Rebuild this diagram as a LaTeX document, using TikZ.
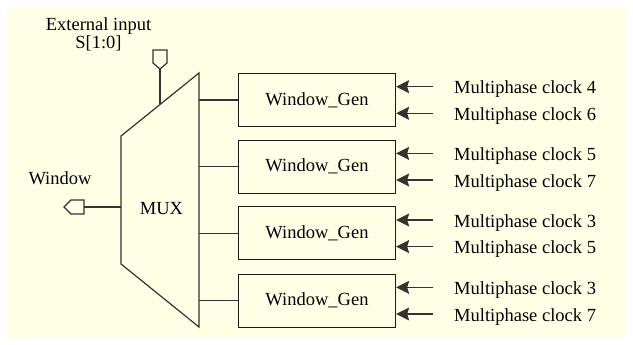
\documentclass[tikz,border=0pt]{standalone}
\usepackage{fontspec}
\setmainfont{Liberation Serif}
\usetikzlibrary{arrows.meta,calc}
\definecolor{bgyellow}{RGB}{255,255,230}
\begin{document}
\begin{tikzpicture}[x=1pt,y=-1pt,
  wire/.style={line width=1.2pt, draw=black!80},
  genbox/.style={draw=black!90, line width=1.3pt, minimum width=157pt, minimum height=53pt, inner sep=0pt, font=\fontsize{18.5}{22}\selectfont},
  lbl/.style={font=\fontsize{18.5}{22}\selectfont, inner sep=0pt},
  clk/.style={wire, -{Stealth[length=13pt,width=13pt,inset=2pt]}},
  port/.style={wire, fill=bgyellow, line join=miter}
]
\useasboundingbox (0,0) rectangle (633,345);
\fill[white] (0,0) rectangle (633,345);
\fill[bgyellow] (7,7) rectangle (626,338);

% MUX trapezoid
\coordinate (mTR) at (199,73);
\coordinate (mBR) at (199,327);
\coordinate (mBL) at (121,264);
\coordinate (mTL) at (121,136);
\draw[wire, line join=miter] (mTL) -- (mTR) -- (mBR) -- (mBL) -- cycle;
\node[lbl, anchor=base] (mux) at (161.5,214.5) {MUX};

% select input
\node[lbl, anchor=base, align=center, font=\fontsize{18.5}{15.5}\selectfont] (ext) at (98.5,48.5) {External input\\S[1:0]};
\coordinate (selport) at (160,69);
\draw[port] (153,50) -- (167,50) -- (167,63) -- (selport) -- (153,63) -- cycle;
\coordinate (mTop) at ($(mTR)!0.5!(mTL)$);
\draw[wire] (selport) -- (mTop);

% window output
\node[lbl, anchor=base] (win) at (60,185) {Window};
\coordinate (wout) at (84,207);
\draw[port] (64,207) -- (71,200) -- (84,200) -- (84,214) -- (71,214) -- cycle;
\draw[wire] (wout) -- (wout -| mTL);

% Window_Gen boxes
\node[genbox] (g1) at (317,100) {Window\_Gen};
\node[genbox] (g2) at (317,166.7) {Window\_Gen};
\node[genbox] (g3) at (317,233.3) {Window\_Gen};
\node[genbox] (g4) at (317,300.7) {Window\_Gen};

\foreach \g in {g1,g2,g3,g4}{
  \draw[wire] (\g.west -| mTR) -- (\g.west);
}

% clock inputs
\foreach \g/\a/\b in {g1/4/6, g2/5/7, g3/3/5, g4/3/7}{
  \coordinate (\g a) at ($(\g.center)+(116,-13.3)$);
  \coordinate (\g b) at ($(\g.center)+(116,13.3)$);
  \draw[clk] (\g a) -- (\g a -| \g.east);
  \draw[clk] (\g b) -- (\g b -| \g.east);
  \node[lbl, anchor=base west] (\g la) at ($(\g a)+(21,7.3)$) {Multiphase clock \a};
  \node[lbl, anchor=base west] (\g lb) at ($(\g b)+(21,7.3)$) {Multiphase clock \b};
}
\end{tikzpicture}
\end{document}
